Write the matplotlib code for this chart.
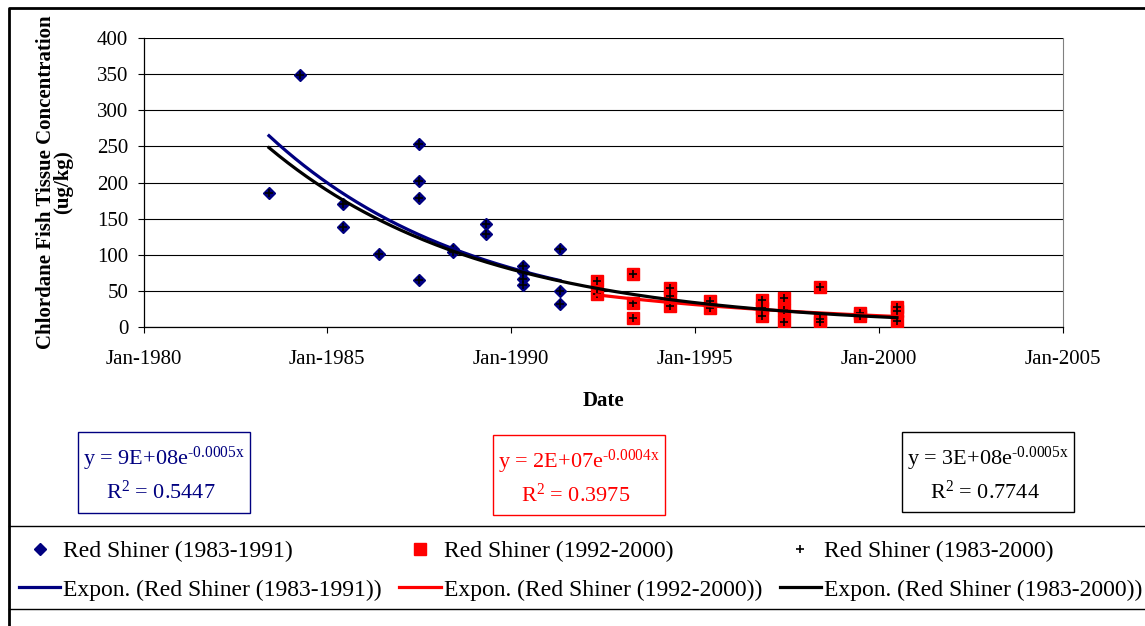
import numpy as np
import matplotlib
matplotlib.use("Agg")
import matplotlib.pyplot as plt
import matplotlib.dates as mdates
from matplotlib.lines import Line2D
from matplotlib.patches import Rectangle

plt.rcParams["font.family"] = ["Liberation Serif", "DejaVu Serif"]
plt.rcParams["mathtext.fontset"] = "custom"
plt.rcParams["mathtext.rm"] = "Liberation Serif"

# Red Shiner chlordane in fish tissue (ug/kg)
early_dates = ["1983-06", "1984-04", "1985-06", "1985-06", "1986-06",
               "1987-07", "1987-07", "1987-07", "1987-07", "1988-06",
               "1988-06", "1989-05", "1989-05", "1990-05", "1990-05",
               "1990-05", "1990-05", "1991-05", "1991-05", "1991-05"]
early_vals = [186, 348, 170, 138, 101, 253, 202, 178, 66, 108,
              104, 143, 129, 85, 76, 67, 58, 108, 50, 32]

late_dates = ["1992-05", "1992-05", "1993-05", "1993-05", "1993-05",
              "1994-05", "1994-05", "1994-05", "1995-06", "1995-06",
              "1996-11", "1996-11", "1996-11", "1997-06", "1997-06",
              "1997-06", "1998-06", "1998-06", "1998-06", "1999-07",
              "1999-07", "2000-07", "2000-07", "2000-07"]
late_vals = [64, 46, 73, 33, 13, 54, 43, 30, 37, 26, 38, 27, 16,
             40, 24, 7, 55, 12, 7, 20, 16, 28, 22, 9]

eq_early = ("y = 9E+08e$\\mathregular{^{\\text{-}0.0005x}}$", "R$\\mathregular{^2}$ = 0.5447")
eq_late = ("y = 2E+07e$\\mathregular{^{\\text{-}0.0004x}}$", "R$\\mathregular{^2}$ = 0.3975")
eq_all = ("y = 3E+08e$\\mathregular{^{\\text{-}0.0005x}}$", "R$\\mathregular{^2}$ = 0.7744")

NAVY = "#000080"
RED = "#FF0000"

x_early = mdates.date2num(np.array(early_dates, dtype="datetime64[D]"))
x_late = mdates.date2num(np.array(late_dates, dtype="datetime64[D]"))
x_all = np.concatenate([x_early, x_late])
v_all = np.array(early_vals + late_vals, dtype=float)


def expon_fit(x, y):
    # same as an Excel exponential trendline: least squares on ln(y)
    b, ln_a = np.polyfit(x, np.log(y), 1)
    xs = np.linspace(x.min(), x.max(), 200)
    return xs, np.exp(ln_a + b * xs)


W, H = 1145, 626


def fx(px):
    return px / W


def fy(py):
    return 1 - py / H


fig = plt.figure(figsize=(W / 100, H / 100), dpi=100)
ax = fig.add_axes([fx(143.5), fy(327.3), 919 / W, 289.6 / H])

h1, = ax.plot(x_early, early_vals, "D", color=NAVY, ms=6.3, zorder=3,
              label="Red Shiner (1983-1991)")
h2, = ax.plot(x_late, late_vals, "s", color=RED, ms=8.5, zorder=3,
              label="Red Shiner (1992-2000)")
h3, = ax.plot(x_all, v_all, "+", color="black", ms=6, mew=1.2, zorder=4,
              label="Red Shiner (1983-2000)")

xs, ys = expon_fit(x_early, np.array(early_vals, dtype=float))
t1, = ax.plot(xs, ys, color=NAVY, lw=2.3, zorder=5,
              label="Expon. (Red Shiner (1983-1991))")
xs, ys = expon_fit(x_late, np.array(late_vals, dtype=float))
t2, = ax.plot(xs, ys, color=RED, lw=2.3, zorder=5,
              label="Expon. (Red Shiner (1992-2000))")
xs, ys = expon_fit(x_all, v_all)
t3, = ax.plot(xs, ys, color="black", lw=2.3, zorder=6,
              label="Expon. (Red Shiner (1983-2000))")

ax.set_xlim(mdates.datestr2num("1980-01-01"), mdates.datestr2num("2005-01-01"))
ax.set_ylim(0, 400)
ax.xaxis.set_major_locator(mdates.YearLocator(5, month=1, day=1))
ax.xaxis.set_major_formatter(mdates.DateFormatter("%b-%Y"))
ax.set_yticks(np.arange(0, 401, 50))
ax.grid(axis="y", color="black", lw=0.8)
ax.set_axisbelow(True)
ax.tick_params(direction="out", length=4.5, width=0.8, labelsize=15, colors="black")
ax.tick_params(axis="y", pad=6.5)
ax.tick_params(axis="x", pad=12)
ax.spines["top"].set_visible(False)
ax.spines["right"].set_color("#808080")
for s in ("left", "bottom"):
    ax.spines[s].set_color("black")
    ax.spines[s].set_linewidth(0.9)

ax.set_xlabel("Date", fontsize=15, fontweight="bold", labelpad=15.5)
fig.text(fx(55), fy(182.5), "Chlordane Fish Tissue Concentration\n(ug/kg)",
         rotation=90, ha="center", va="center", fontsize=15,
         fontweight="bold", multialignment="center", linespacing=0.8)

# trendline equation boxes
boxes = [(78, 432, 250, 513, NAVY, eq_early),
         (493, 435, 665, 515, RED, eq_late),
         (902, 432, 1074, 512, "black", eq_all)]
for x0, y0, x1, y1, col, (line1, line2) in boxes:
    fig.add_artist(Rectangle((fx(x0), fy(y1)), (x1 - x0) / W, (y1 - y0) / H,
                             transform=fig.transFigure, fill=False,
                             edgecolor=col, lw=1))
    cx = (x0 + x1) / 2
    fig.text(fx(cx), fy(y0 + 27), line1, color=col, fontsize=16,
             ha="center", va="center")
    fig.text(fx(cx - 3), fy(y0 + 60), line2, color=col, fontsize=16,
             ha="center", va="center")

# chart border and legend frame
fig.add_artist(Line2D([fx(9), fx(9), 1], [0, fy(8), fy(8)], color="black",
                      lw=2, transform=fig.transFigure))
for yy in (526, 609):
    fig.add_artist(Line2D([fx(9), 1], [fy(yy), fy(yy)], color="black",
                          lw=1, transform=fig.transFigure))

fig.legend([h1, t1, h2, t2, h3, t3],
           [h.get_label() for h in (h1, t1, h2, t2, h3, t3)],
           ncol=3, loc="upper left", bbox_to_anchor=(fx(19), fy(541)),
           frameon=False, fontsize=17, handlelength=1.75, handletextpad=0.12,
           columnspacing=0.75, labelspacing=0.7, borderpad=0, borderaxespad=0)

fig.savefig("out.png", dpi=100)
